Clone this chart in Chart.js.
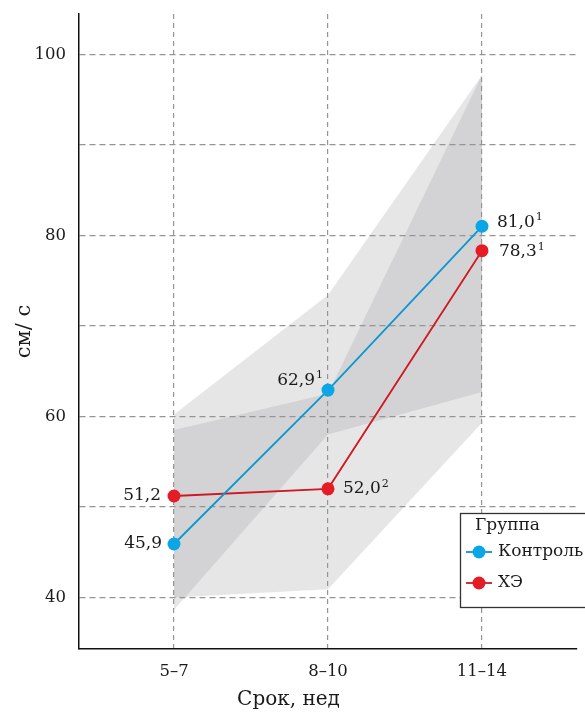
<!DOCTYPE html>
<html>
<head>
<meta charset="utf-8">
<script src="https://cdn.jsdelivr.net/npm/chart.js@4.4.1/dist/chart.umd.min.js"></script>
<style>
  html, body { margin: 0; padding: 0; background: #fff; }
  #wrap { width: 585px; height: 712px; position: relative; }
</style>
</head>
<body>
<div id="wrap"><canvas id="chart"></canvas></div>
<script>
const categories = ['5–7', '8–10', '11–14']
const seriesNames = ['Контроль', 'ХЭ']
const controlValues = [45.9, 62.9, 81.0]
const heValues = [51.2, 52.0, 78.3]
const controlMarks = ['', '1', '1']
const heMarks = ['', '2', '1']
const controlLower = [38.6, 58.0, 62.7]
const controlUpper = [60.2, 73.4, 97.7]
const heLower = [40.0, 40.9, 59.3]
const heUpper = [58.5, 62.5, 97.7]
const yTicks = [40, 50, 60, 70, 80, 90, 100]
const yLabeled = [40, 60, 80, 100]

const FONT = '"DejaVu Serif", serif'
const TEXT = '#1a1a1a'
const BLUE_LINE = '#0b97cf'
const BLUE_DOT = '#0aa6e6'
const RED_LINE = '#cf1820'
const RED_DOT = '#e41c25'
const BAND = 'rgba(150, 151, 154, 0.24)'

Chart.defaults.font.family = FONT
Chart.defaults.color = TEXT

const pts = (arr) => arr.map((v, i) => ({ x: i, y: v }))
const fmt = (v) => v.toFixed(1).replace('.', ',')

// where each value label sits relative to its point
const labelPlace = [
  [{ side: 'left', dx: 12, dy: 0 }, { side: 'left', dx: 5, dy: -10 }, { side: 'right', dx: 15, dy: -4 }],
  [{ side: 'left', dx: 13, dy: 0 }, { side: 'right', dx: 15, dy: 0 }, { side: 'right', dx: 17, dy: 1 }],
]
const allMarks = [controlMarks, heMarks]

const valueLabels = {
  id: 'valueLabels',
  afterDatasetsDraw(chart) {
    const ctx = chart.ctx
    ctx.save()
    ctx.fillStyle = TEXT
    ctx.textBaseline = 'middle'
    ctx.textAlign = 'left'
    ;[0, 1].forEach((di) => {
      const meta = chart.getDatasetMeta(di)
      meta.data.forEach((pt, i) => {
        const txt = fmt(chart.data.datasets[di].data[i].y)
        const mark = allMarks[di][i]
        const p = labelPlace[di][i]
        ctx.font = '17px ' + FONT
        const w1 = ctx.measureText(txt).width
        ctx.font = '11px ' + FONT
        const w2 = mark ? ctx.measureText(mark).width + 1 : 0
        const x0 = p.side === 'left' ? pt.x - p.dx - w1 - w2 : pt.x + p.dx
        const y = pt.y + p.dy
        ctx.font = '17px ' + FONT
        ctx.fillText(txt, x0, y)
        if (mark) {
          ctx.font = '11px ' + FONT
          ctx.fillText(mark, x0 + w1 + 1, y - 5)
        }
      })
    })
    ctx.restore()
  },
}

const boxLegend = {
  id: 'boxLegend',
  afterDraw(chart) {
    const ctx = chart.ctx
    const x = 460.5, y = 513.5, w = 140, h = 94
    ctx.save()
    ctx.fillStyle = '#fff'
    ctx.fillRect(x, y, w, h)
    ctx.strokeStyle = '#333'
    ctx.lineWidth = 1.3
    ctx.strokeRect(x, y, w, h)
    ctx.fillStyle = TEXT
    ctx.textBaseline = 'middle'
    ctx.font = '17px ' + FONT
    ctx.fillText('Группа', 475, 526)
    const items = [
      { name: seriesNames[0], line: BLUE_LINE, dot: BLUE_DOT, y: 552 },
      { name: seriesNames[1], line: RED_LINE, dot: RED_DOT, y: 583 },
    ]
    items.forEach((it) => {
      ctx.strokeStyle = it.line
      ctx.lineWidth = 1.8
      ctx.beginPath()
      ctx.moveTo(466, it.y)
      ctx.lineTo(492, it.y)
      ctx.stroke()
      ctx.fillStyle = it.dot
      ctx.beginPath()
      ctx.arc(479, it.y, 6.5, 0, Math.PI * 2)
      ctx.fill()
      ctx.fillStyle = TEXT
      ctx.fillText(it.name, 498, it.y)
    })
    ctx.restore()
  },
}

const lineSet = (label, values, line, dot) => ({
  label,
  data: pts(values),
  borderColor: line,
  borderWidth: 1.8,
  backgroundColor: dot,
  pointBackgroundColor: dot,
  pointBorderWidth: 0,
  pointRadius: 6.5,
  pointHoverRadius: 6.5,
  fill: false,
  tension: 0,
})

const bandSet = (label, values, target) => ({
  label,
  data: pts(values),
  borderWidth: 0,
  borderColor: 'rgba(0,0,0,0)',
  pointRadius: 0,
  pointHoverRadius: 0,
  backgroundColor: BAND,
  fill: target === undefined ? false : { target },
  tension: 0,
})

const data = {
  datasets: [
    lineSet(seriesNames[0], controlValues, BLUE_LINE, BLUE_DOT),
    lineSet(seriesNames[1], heValues, RED_LINE, RED_DOT),
    bandSet('control lower', controlLower),
    bandSet('control upper', controlUpper, 2),
    bandSet('he lower', heLower),
    bandSet('he upper', heUpper, 4),
  ],
}

const gridCommon = {
  color: '#959595',
  lineWidth: 1.2,
  drawTicks: false,
}

const noEdgePadding = (s) => {
  s.paddingTop = 0
  s.paddingBottom = 0
  s.paddingLeft = 0
  s.paddingRight = 0
}

const options = {
  responsive: true,
  maintainAspectRatio: false,
  animation: false,
  layout: { padding: { top: 14, right: 8, bottom: 0, left: 0 } },
  plugins: {
    legend: { display: false },
    tooltip: { enabled: false },
    title: {
      display: true,
      position: 'bottom',
      text: 'Срок, нед',
      color: TEXT,
      font: { size: 20, weight: 'normal' },
      padding: 0,
    },
  },
  scales: {
    x: {
      type: 'linear',
      min: -0.617,
      max: 2.617,
      afterBuildTicks: (s) => { s.ticks = categories.map((c, i) => ({ value: i })) },
      afterFit: (s) => { s.height = 39; noEdgePadding(s) },
      grid: gridCommon,
      border: { display: true, color: '#111', width: 1.5, dash: [5, 4] },
      ticks: {
        padding: 13,
        font: { size: 16.5 },
        color: TEXT,
        callback: (v) => categories[v] ?? '',
      },
    },
    y: {
      min: 34.3,
      max: 104.45,
      afterBuildTicks: (s) => { s.ticks = yTicks.map((v) => ({ value: v })) },
      afterFit: (s) => { s.width = 79; noEdgePadding(s) },
      grid: gridCommon,
      border: { display: true, color: '#111', width: 1.5, dash: [6, 4] },
      title: {
        display: true,
        text: 'см/ с',
        color: TEXT,
        font: { size: 21 },
        padding: { top: 12, bottom: 0 },
      },
      ticks: {
        padding: 13,
        font: { size: 16.5 },
        color: TEXT,
        callback: (v) => (yLabeled.includes(v) ? String(v) : ''),
      },
    },
  },
}

new Chart(document.getElementById('chart'), {
  type: 'line',
  data,
  options,
  plugins: [valueLabels, boxLegend],
})
</script>
</body>
</html>
